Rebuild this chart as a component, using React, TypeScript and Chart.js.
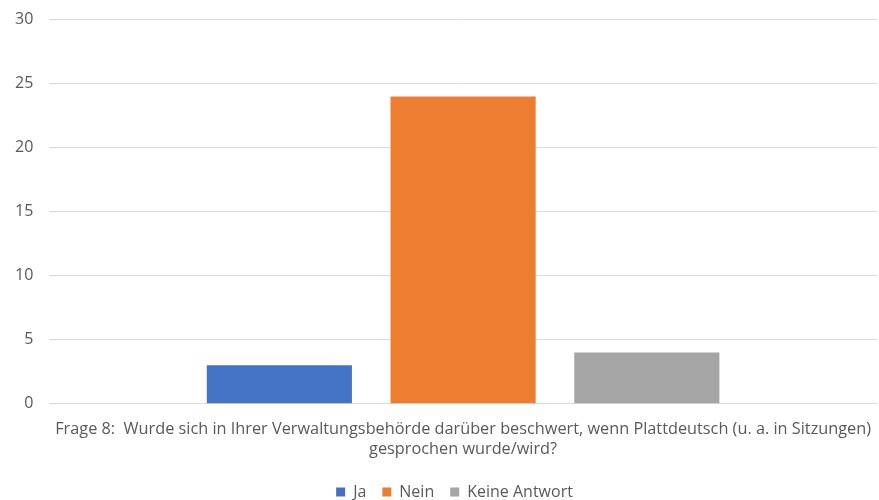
import React, { useEffect, useRef } from "react";
import { Chart, registerables } from "chart.js";

Chart.register(...registerables);

const categories: string[][] = [[
  "Frage 8:  Wurde sich in Ihrer Verwaltungsbehörde darüber beschwert, wenn Plattdeutsch (u. a. in Sitzungen)",
  "gesprochen wurde/wird?",
]];
const seriesNames = ["Ja", "Nein", "Keine Antwort"];
const jaValues = [3];
const neinValues = [24];
const keineValues = [4];
const colors = ["#4472C4", "#ED7D31", "#A5A5A5"];

const legendShift = {
  id: "legendShift",
  afterLayout(chart: any) {
    if (chart.legend) {
      chart.legend.left += 12;
      chart.legend.right += 12;
    }
  },
};

export default function App() {
  const ref = useRef<HTMLCanvasElement | null>(null);
  useEffect(() => {
    document.body.style.margin = "0";
    const ctx = ref.current!;
    const chart = new Chart(ctx, {
      type: "bar",
      data: {
        labels: categories,
        datasets: [jaValues, neinValues, keineValues].map((d, i) => ({
          label: seriesNames[i],
          data: d,
          backgroundColor: colors[i],
          borderWidth: 0,
          categoryPercentage: 0.666,
          barPercentage: 0.79,
        })),
      },
      options: {
        animation: false,
        responsive: false,
        maintainAspectRatio: false,
        layout: { padding: { top: 3, right: -1, left: 5, bottom: -10 } },
        plugins: {
          legend: {
            position: "bottom",
            labels: {
              boxWidth: 9,
              boxHeight: 9,
              padding: 16,
              color: "#595959",
              font: { family: "Open Sans", size: 16 },
            },
          },
          tooltip: { enabled: false },
        },
        scales: {
          x: {
            grid: { display: false },
            border: { color: "#D9D9D9" },
            ticks: {
              autoSkip: false,
              maxRotation: 0,
              minRotation: 0,
              color: "#595959",
              font: { family: "Open Sans", size: 16.3, lineHeight: 1.2 },
              padding: 8,
            },
            title: {
              display: true,
              text: " ",
              font: { size: 1 },
              padding: { top: 0, bottom: 0 },
            },
          },
          y: {
            min: 0,
            max: 30,
            ticks: {
              stepSize: 5,
              color: "#595959",
              font: { family: "Open Sans", size: 16 },
              padding: 10,
            },
            grid: {
              color: "#D9D9D9",
              drawTicks: true,
              tickLength: 6,
              tickColor: "rgba(0,0,0,0)",
            },
            border: { display: false },
          },
        },
      },
      plugins: [legendShift],
    });
    return () => chart.destroy();
  }, []);
  return (
    <div style={{ width: 879, height: 500 }}>
      <canvas ref={ref} width={879} height={500} />
    </div>
  );
}
